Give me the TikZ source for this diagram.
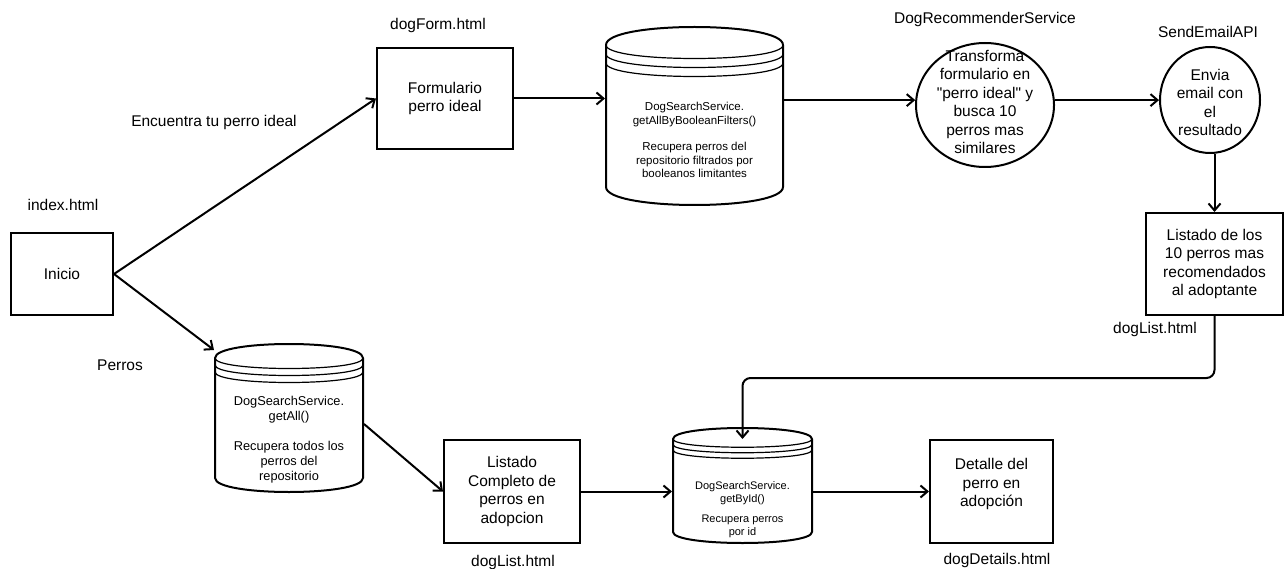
\documentclass[tikz,border=0pt]{standalone}
\usepackage{fontspec}
\setmainfont{Liberation Sans}
\usetikzlibrary{arrows.meta,shapes.geometric}

% font sizes (1pt = 1 unit of the picture)
\newcommand\lblfont{\fontsize{15.5}{18.5}\selectfont}
\newcommand\dbfontA{\fontsize{11.5}{13.4}\selectfont}
\newcommand\dbfontB{\fontsize{12.8}{15}\selectfont}
\newcommand\dbfontC{\fontsize{11}{13}\selectfont}
% straight double quote, set as a glyph so it is not turned into a curly one
\newcommand\sq{\XeTeXglyph\XeTeXcharglyph"22\relax}

\tikzset{
  box/.style={draw, rectangle, line width=2pt, inner sep=0pt, align=center, font=\lblfont},
  ell/.style={draw, ellipse, line width=2pt, inner sep=0pt},
  dbnode/.style={rectangle, draw=none, inner sep=0pt, outer sep=1pt},
  dsouter/.style={line width=2pt, fill=white, line join=round},
  dsinner/.style={line width=1.2pt},
  txt/.style={inner sep=0pt, align=center, font=\lblfont},
  dbtxt/.style={inner sep=0pt, align=center},
  lbl/.style={inner sep=0pt, font=\lblfont},
  conn/.style={line width=2pt, -{Straight Barb[length=7pt,width=12pt]}},
}

% data store: name, centre x, centre y, width, height, cap depth
\newcommand\datastore[6]{%
  \node[dbnode, minimum width=#4pt, minimum height=#5pt] (#1) at (#2,#3) {};
  \pgfmathsetmacro\dsL{#2-#4/2}%
  \pgfmathsetmacro\dsR{#2+#4/2}%
  \pgfmathsetmacro\dsT{#3-#5/2}%
  \pgfmathsetmacro\dsB{#3+#5/2}%
  \pgfmathsetmacro\dsD{#6}%
  \draw[dsouter] ({\dsL},{\dsT+\dsD})
      .. controls ({\dsL},{\dsT-\dsD/3}) and ({\dsR},{\dsT-\dsD/3}) .. ({\dsR},{\dsT+\dsD})
      -- ({\dsR},{\dsB-\dsD})
      .. controls ({\dsR},{\dsB+\dsD/3}) and ({\dsL},{\dsB+\dsD/3}) .. ({\dsL},{\dsB-\dsD})
      -- cycle;
  \foreach \k in {0,1,2} {
    \draw[dsinner] ({\dsL},{\dsT+\dsD+\k*\dsD/2})
      .. controls ({\dsL},{\dsT+2*\dsD+\k*\dsD/2}) and ({\dsR},{\dsT+2*\dsD+\k*\dsD/2})
      .. ({\dsR},{\dsT+\dsD+\k*\dsD/2});
  }%
}

\begin{document}
\begin{tikzpicture}[x=1pt,y=-1pt]
\useasboundingbox (0,0) rectangle (1287,569);
\fill[white] (0,0) rectangle (1287,569);

% start page
\node[box, minimum width=102pt, minimum height=82pt] (start) at (62,274) {Inicio};
\node[lbl] (idxlbl) at (63,205) {index.html};

% form branch
\node[box, minimum width=136pt, minimum height=101pt] (form) at (445,98.5) {Formulario\\perro ideal};
\node[lbl] (formlbl) at (438,25) {dogForm.html};
\node[lbl] (findlbl) at (214,122) {Encuentra tu perro ideal};

\datastore{cyl1}{694.5}{116}{177}{178}{18}
\node[dbtxt, font=\dbfontA] (cyl1txt) at (694.5,140) {DogSearchService.\\getAllByBooleanFilters()\\[13.4pt]Recupera perros del\\repositorio filtrados por\\booleanos limitantes};

\node[ell, minimum width=138pt, minimum height=124pt] (c1) at (985,105) {};
\node[txt] (c1txt) at (985,102) {Transforma\\formulario en\\\sq perro ideal\sq\ y\\busca 10\\perros mas\\similares};
\node[lbl] (c1lbl) at (985,19) {DogRecommenderService};

\node[ell, minimum width=100pt, minimum height=106pt] (c2) at (1210,100) {};
\node[txt] (c2txt) at (1210,102.5) {Envia\\email con\\el\\resultado};
\node[lbl] (c2lbl) at (1208,32) {SendEmailAPI};

\node[box, minimum width=137pt, minimum height=102pt] (top10) at (1214.5,264) {Listado de los\\10 perros mas\\recomendados\\al adoptante};
\node[lbl] (top10lbl) at (1155,329) {dogList.html};

% list branch
\node[lbl] (dogslbl) at (120,365) {Perros};
\datastore{cyl2}{289}{418}{148}{148}{14}
\node[dbtxt, font=\dbfontB] (cyl2txt) at (289,440) {DogSearchService.\\getAll()\\[15pt]Recupera todos los\\perros del\\repositorio};

\node[box, minimum width=136pt, minimum height=103pt] (list) at (512,491.5) {Listado\\Completo de\\perros en\\adopcion};
\node[lbl] (listlbl) at (513,562) {dogList.html};

\datastore{cyl3}{742.5}{485.5}{139}{115}{11}
\node[dbtxt, font=\dbfontC] (cyl3txt) at (742.5,510) {DogSearchService.\\getById()\\[7pt]Recupera perros\\por id};

\node[box, minimum width=123pt, minimum height=103pt] (detail) at (991.5,491.5) {};
\node[txt] (detailtxt) at (991.5,484) {Detalle del\\perro en\\adopción};
\node[lbl] (detaillbl) at (997,560) {dogDetails.html};

% connectors
\draw[conn] (start.east) -- (form.west);
\draw[conn] (start.east) -- ([yshift=-7pt]cyl2.north west);
\draw[conn] (form.east) -- (form.east -| cyl1.west);
\draw[conn] (cyl1.east |- c1.176) -- (c1.176);
\draw[conn] (c1.4) -- (c1.4 -| c2.west);
\draw[conn] (c2.south -| top10.north) -- (top10.north);
\draw[conn, rounded corners=8pt] (top10.south) -- ++(0,62) -| ([yshift=-12pt]cyl3.north);
\draw[conn] ([yshift=-6pt]cyl2.east) -- (list.west);
\draw[conn] (list.east) -- (list.east -| cyl3.west);
\draw[conn] (detail.west -| cyl3.east) -- (detail.west);
\end{tikzpicture}
\end{document}
